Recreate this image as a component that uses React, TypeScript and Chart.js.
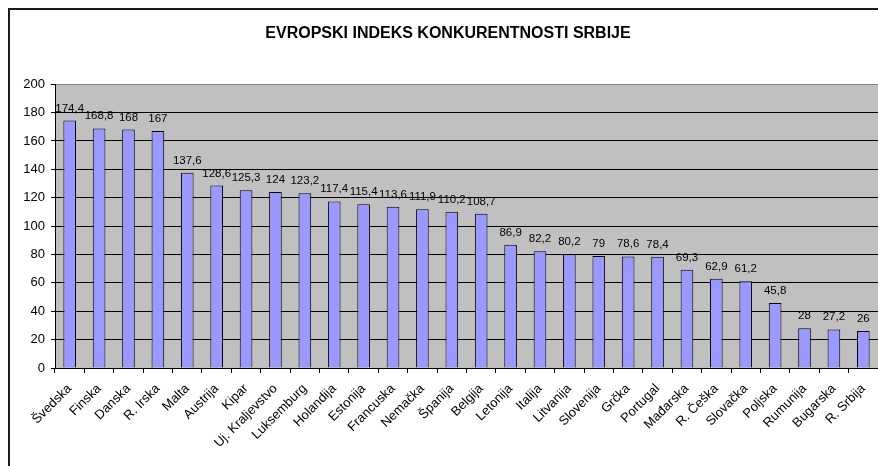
import React, { useEffect, useRef } from "react";
import { Chart, registerables } from "chart.js";

Chart.register(...registerables);

const categories = [
  "Švedska", "Finska", "Danska", "R. Irska", "Malta", "Austrija", "Kipar",
  "Uj. Kraljevstvo", "Luksemburg", "Holandija", "Estonija", "Francuska",
  "Nemačka", "Španija", "Belgija", "Letonija", "Italija", "Litvanija",
  "Slovenija", "Grčka", "Portugal", "Mađarska", "R. Češka", "Slovačka",
  "Poljska", "Rumunija", "Bugarska", "R. Srbija",
];

const values = [
  174.4, 168.8, 168, 167, 137.6, 128.6, 125.3, 124, 123.2, 117.4, 115.4,
  113.6, 111.9, 110.2, 108.7, 86.9, 82.2, 80.2, 79, 78.6, 78.4, 69.3, 62.9,
  61.2, 45.8, 28, 27.2, 26,
];

const yMin = 0;
const yMax = 200;
const yStep = 20;

const title = "EVROPSKI INDEKS KONKURENTNOSTI SRBIJE";

const FONT = "'Liberation Sans', Arial, sans-serif";

const plotBg = {
  id: "plotBg",
  beforeDraw(chart: any) {
    const { ctx, chartArea } = chart;
    ctx.save();
    ctx.fillStyle = "#C0C0C0";
    ctx.fillRect(chartArea.left, chartArea.top, chartArea.right - chartArea.left, chartArea.bottom - chartArea.top);
    ctx.restore();
  },
};

const dataLabels = {
  id: "dataLabels",
  afterDatasetsDraw(chart: any) {
    const { ctx } = chart;
    const meta = chart.getDatasetMeta(0);
    ctx.save();
    ctx.fillStyle = "#000";
    ctx.font = `11.5px ${FONT}`;
    ctx.textAlign = "center";
    ctx.textBaseline = "alphabetic";
    meta.data.forEach((bar: any, i: number) => {
      const v = chart.data.datasets[0].data[i] as number;
      ctx.fillText(String(v).replace(".", ","), bar.x, bar.y - 9);
    });
    ctx.restore();
  },
};

export default function App() {
  const ref = useRef<HTMLCanvasElement | null>(null);

  useEffect(() => {
    if (!ref.current) return;
    const chart = new Chart(ref.current, {
      type: "bar",
      data: {
        labels: categories,
        datasets: [
          {
            data: values,
            backgroundColor: "#9999FF",
            borderColor: "#000000",
            borderWidth: 1,
            barPercentage: 0.43,
            categoryPercentage: 1,
          },
        ],
      },
      options: {
        responsive: false,
        animation: false,
        layout: { padding: { left: 18, right: 0, top: 0, bottom: 0 } },
        plugins: {
          legend: { display: false },
          tooltip: { enabled: false },
          title: {
            display: true,
            text: title,
            color: "#000",
            font: { family: FONT, size: 16, weight: "bold" },
            padding: { top: 24, bottom: 41 },
          },
        },
        scales: {
          x: {
            ticks: {
              autoSkip: false,
              maxRotation: 45,
              minRotation: 45,
              color: "#000",
              font: { family: FONT, size: 13 },
              padding: 8,
            },
            grid: {
              drawOnChartArea: false,
              drawTicks: true,
              tickLength: 5,
              color: "#000",
              offset: true,
            },
            border: { display: true, color: "#000", width: 1 },
            afterFit(scale: any) {
              scale.height = 98;
              scale.paddingLeft = 0;
              scale.paddingRight = 0;
            },
          },
          y: {
            min: yMin,
            max: yMax,
            ticks: {
              stepSize: yStep,
              color: "#000",
              font: { family: FONT, size: 13 },
              padding: 6,
            },
            grid: {
              color: (c: any) => (c.tick && c.tick.value === yMax ? "#808080" : "#000"),
              tickColor: "#000",
              tickLength: 4,
              lineWidth: 1,
            },
            border: { display: true, color: "#000", width: 1 },
            afterFit(scale: any) {
              scale.width = 37;
            },
          },
        },
      },
      plugins: [plotBg, dataLabels],
    });
    return () => chart.destroy();
  }, []);

  return (
    <div style={{ position: "absolute", left: 0, top: 0, width: 878, height: 466, overflow: "hidden", background: "#fff" }}>
      <div
        style={{
          position: "absolute",
          left: 8,
          top: 8,
          width: 900,
          height: 500,
          borderTop: "2px solid #1a1a1a",
          borderLeft: "2px solid #1a1a1a",
          boxSizing: "border-box",
        }}
      />
      <canvas ref={ref} width={878} height={466} style={{ position: "absolute", left: 0, top: 0, display: "block" }} />
    </div>
  );
}
